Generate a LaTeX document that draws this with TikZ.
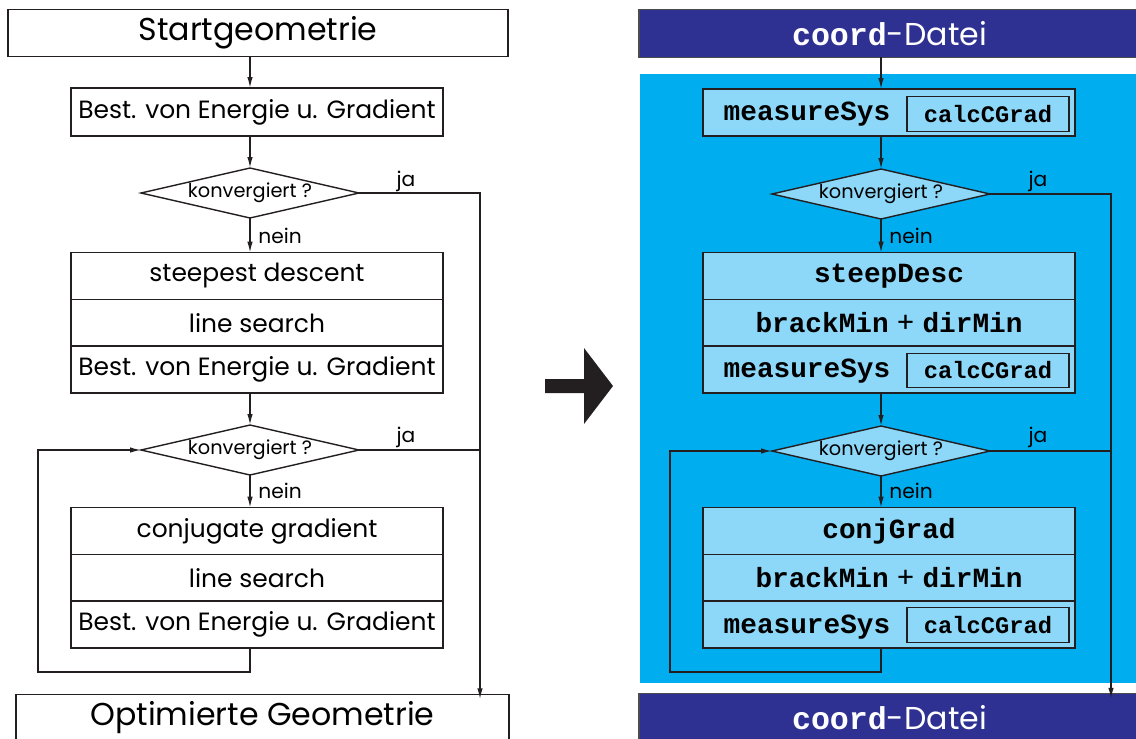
\documentclass[tikz,border=0pt]{standalone}
\usepackage{fontspec}
\setmainfont{Poppins}
\setmonofont{Liberation Mono}
\usepackage{tikz}
\usetikzlibrary{arrows.meta, positioning, shapes.geometric}
\definecolor{navybox}{RGB}{46, 49, 146}
\definecolor{cyanbg}{RGB}{0, 174, 239}
\definecolor{lightcyan}{RGB}{141, 216, 248}
\definecolor{inkline}{RGB}{35, 31, 32}
\newcommand{\fsz}[1]{\fontsize{#1}{#1}\selectfont}
\newcommand{\code}[1]{\texttt{\bfseries #1}}

\begin{document}
\begin{tikzpicture}[x=0.02cm, y=-0.02cm, line width=0.8pt, draw=inkline,
    blockrow/.style={draw, outer sep=0pt, inner sep=0pt, minimum width=7.44cm,
      minimum height=0.935cm, font=\fsz{14.2}},
    lightrow/.style={blockrow, fill=lightcyan, font=\fsz{15.8}},
    subbox/.style={draw, outer sep=0pt, inner sep=0pt, minimum width=3.24cm,
      minimum height=0.69cm, font=\fsz{13.5}},
    endbox/.style={draw, outer sep=0pt, inner sep=0pt, minimum height=0.95cm},
    filebox/.style={endbox, draw=black!70, fill=navybox, text=white, font=\fsz{18}},
    decision/.style={diamond, aspect=4.36, draw, outer sep=0pt, inner sep=0pt,
      minimum width=4.36cm, minimum height=1.0cm, font=\fsz{11}},
    answer/.style={inner sep=1pt, font=\fsz{11.5}},
    arr/.style={-{Latex[length=2.2mm, width=1.1mm]}}]
  \useasboundingbox (0,0) rectangle (1136,738);

  % left column: plain flow chart
  \node[endbox, minimum width=10cm, font=\fsz{18}] (start) at (258,33) {Startgeometrie};
  \node[blockrow, minimum height=0.96cm] (best) at (257,112) {Best. von Energie u. Gradient};
  \node[decision] (konv1) at (250,193) {konvergiert ?};
  \node[blockrow] (sd) at (257,276) {steepest descent};
  \node[blockrow, below=0pt of sd] (ls1) {line search};
  \node[blockrow, below=0pt of ls1] (be1) {Best. von Energie u. Gradient};
  \node[decision] (konv2) at (250,450) {konvergiert ?};
  \node[blockrow] (cg) at (257,531) {conjugate gradient};
  \node[blockrow, below=0pt of cg] (ls2) {line search};
  \node[blockrow, below=0pt of ls2] (be2) {Best. von Energie u. Gradient};
  \node[endbox, minimum width=9.86cm, font=\fsz{18}] (opt) at (262.5,718) {Optimierte Geometrie};

  \node[answer] (ja1) at (406,181) {ja};
  \node[answer] (nein1) at (280,236) {nein};
  \node[answer] (ja2) at (406,437) {ja};
  \node[answer] (nein2) at (280,491) {nein};
  \coordinate (jaL) at (480,193);
  \coordinate (loopL) at (38,672);

  \draw[arr] (start.south -| konv1) -- (best.north -| konv1);
  \draw[arr] (best.south -| konv1) -- (konv1.north);
  \draw[arr] (konv1.south) -- (sd.north -| konv1);
  \draw[arr] (be1.south -| konv1) -- (konv2.north);
  \draw[arr] (konv2.south) -- (cg.north -| konv2);
  \draw[arr] (konv1.east) -- (jaL) -- ([yshift=-0.1cm]opt.north -| jaL);
  \draw (konv2.east) -- (konv2.east -| jaL);
  \draw[arr] (be2.south -| konv2) |- (loopL) |- (konv2.west);

  % transition arrow
  \fill[inkline] (545,379) -- (584,379) -- (584,348) -- (613,386)
    -- (584,424) -- (584,393) -- (545,393) -- cycle;

  % right column: routines of the program
  \fill[cyanbg] (640,74) rectangle (1136,683);
  \node[filebox, minimum width=10.02cm] (filetop) at (889.5,33.5) {\code{coord}-Datei};
  \node[filebox, minimum width=10.02cm] (filebot) at (889.5,717.5) {\code{coord}-Datei};

  \node[lightrow, minimum height=0.94cm] (ms1) at (889,112.5) {};
  \node[font=\fsz{15.8}, inner sep=0pt] (ms1txt) at (807,114) {\code{measureSys}};
  \node[subbox] (cc1) at (988,114) {\code{calcCGrad}};
  \node[decision, fill=lightcyan] (rkonv1) at (881,194) {konvergiert ?};
  \node[lightrow] (stp) at (889,276) {\code{steepDesc}};
  \node[lightrow, below=0pt of stp] (bd1) {\code{brackMin} + \code{dirMin}};
  \node[lightrow, below=0pt of bd1] (ms2) {};
  \node[font=\fsz{15.8}, inner sep=0pt] (ms2txt) at (807,371) {\code{measureSys}};
  \node[subbox] (cc2) at (988,370.5) {\code{calcCGrad}};
  \node[decision, fill=lightcyan] (rkonv2) at (881,451) {konvergiert ?};
  \node[lightrow] (cjg) at (889,531) {\code{conjGrad}};
  \node[lightrow, below=0pt of cjg] (bd2) {\code{brackMin} + \code{dirMin}};
  \node[lightrow, below=0pt of bd2] (ms3) {};
  \node[font=\fsz{15.8}, inner sep=0pt] (ms3txt) at (807,627) {\code{measureSys}};
  \node[subbox] (cc3) at (988,625) {\code{calcCGrad}};

  \node[answer] (rja1) at (1038,181) {ja};
  \node[answer] (rnein1) at (911,236) {nein};
  \node[answer] (rja2) at (1038,437) {ja};
  \node[answer] (rnein2) at (911,491) {nein};
  \coordinate (rjaL) at (1111,194);
  \coordinate (rloopL) at (670,672);

  \draw[arr] (filetop.south -| rkonv1) -- (ms1.north -| rkonv1);
  \draw[arr] (ms1.south -| rkonv1) -- (rkonv1.north);
  \draw[arr] (rkonv1.south) -- (stp.north -| rkonv1);
  \draw[arr] (ms2.south -| rkonv1) -- (rkonv2.north);
  \draw[arr] (rkonv2.south) -- (cjg.north -| rkonv2);
  \draw[arr] (rkonv1.east) -- (rjaL) -- ([yshift=-0.1cm]filebot.north -| rjaL);
  \draw (rkonv2.east) -- (rkonv2.east -| rjaL);
  \draw[arr] (ms3.south -| rkonv2) |- (rloopL) |- (rkonv2.west);
\end{tikzpicture}
\end{document}
